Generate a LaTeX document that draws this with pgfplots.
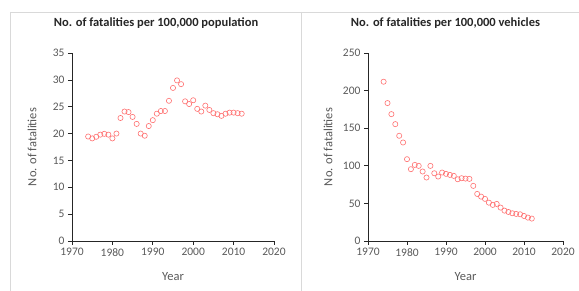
\documentclass[border=0pt]{standalone}
\usepackage{pgfplots}
\pgfplotsset{compat=1.18}
\usepackage{fontspec}
\setmainfont{Carlito}
\definecolor{ptred}{HTML}{FF7070}
\definecolor{txtgray}{HTML}{595959}
\definecolor{bordergray}{HTML}{D9D9D9}
\pgfplotsset{
 panel/.style={
  scale only axis, height=188pt,
  xmin=1970, xmax=2020, ymin=0,
  axis x line=bottom, axis y line=left,
  axis line style={-, black!85, line width=0.8pt},
  xtick={1970,1980,...,2020},
  tick align=outside, major tick length=4pt,
  tick style={black!85, line width=0.7pt},
  ticklabel style={font=\fontsize{11.5}{13}\selectfont, text=txtgray},
  /pgf/number format/assume math mode=true,
  /pgf/number format/1000 sep={},
  xlabel=Year, ylabel=No. of fatalities,
  label style={font=\fontsize{12.5}{14}\selectfont, text=txtgray},
  xlabel style={at={(axis description cs:0.5,0)}, anchor=center, yshift=-36pt},
  ylabel style={at={(axis description cs:0,0.5)}, anchor=center, yshift=40pt},
  title style={font=\bfseries\fontsize{12.5}{14}\selectfont, text=black!85, at={(axis description cs:0.5,1)}, anchor=center, yshift=24pt},
  clip=false,
 },
 pts/.style={only marks, mark=o, mark size=2.6pt, mark options={draw=ptred, line width=0.6pt}},
}
\begin{document}
\begin{tikzpicture}[x=1pt,y=1pt]
\useasboundingbox (0,0) rectangle (579,291);
\draw[bordergray, line width=0.8pt] (10,279) -- (579,279);
\draw[bordergray, line width=0.8pt] (10,279) -- (10,0);
\draw[bordergray, line width=0.8pt] (301,279) -- (301,0);
\begin{axis}[panel, at={(72pt,50pt)}, anchor=south west, width=202pt,
  ymax=35, ytick={0,5,...,35},
  title={No. of fatalities per 100,000 population}, title style={xshift=-17pt}]
\addplot[pts] coordinates {
(1974,19.45) (1975,19.1) (1976,19.4) (1977,19.8) (1978,19.95) (1979,19.8)
(1980,19.1) (1981,20.0) (1982,22.9) (1983,24.1) (1984,24.0) (1985,23.1)
(1986,21.8) (1987,20.0) (1988,19.6) (1989,21.4) (1990,22.5) (1991,23.7)
(1992,24.2) (1993,24.2) (1994,26.1) (1995,28.5) (1996,29.9) (1997,29.2)
(1998,26.0) (1999,25.5) (2000,26.2) (2001,24.6) (2002,24.1) (2003,25.2)
(2004,24.4) (2005,23.8) (2006,23.6) (2007,23.3) (2008,23.7) (2009,23.9)
(2010,23.9) (2011,23.8) (2012,23.7)
};
\end{axis}
\begin{axis}[panel, at={(368pt,50pt)}, anchor=south west, width=195pt,
  ymax=250, ytick={0,50,...,250},
  title={No. of fatalities per 100,000 vehicles}, title style={xshift=-20pt}]
\addplot[pts] coordinates {
(1974,211.8) (1975,183.4) (1976,168.7) (1977,155.4) (1978,139.9) (1979,131)
(1980,108.8) (1981,95.5) (1982,101.2) (1983,99.9) (1984,92.4) (1985,84.4)
(1986,99.9) (1987,90.1) (1988,85.7) (1989,91) (1990,89.3) (1991,87.9)
(1992,86.6) (1993,82.1) (1994,83.5) (1995,83) (1996,82.6) (1997,73.3)
(1998,62.6) (1999,59) (2000,56) (2001,51) (2002,48) (2003,49.3)
(2004,44.4) (2005,40.4) (2006,38.6) (2007,36.9) (2008,36) (2009,35.5)
(2010,33.3) (2011,31.1) (2012,29.8)
};
\end{axis}
\end{tikzpicture}
\end{document}
